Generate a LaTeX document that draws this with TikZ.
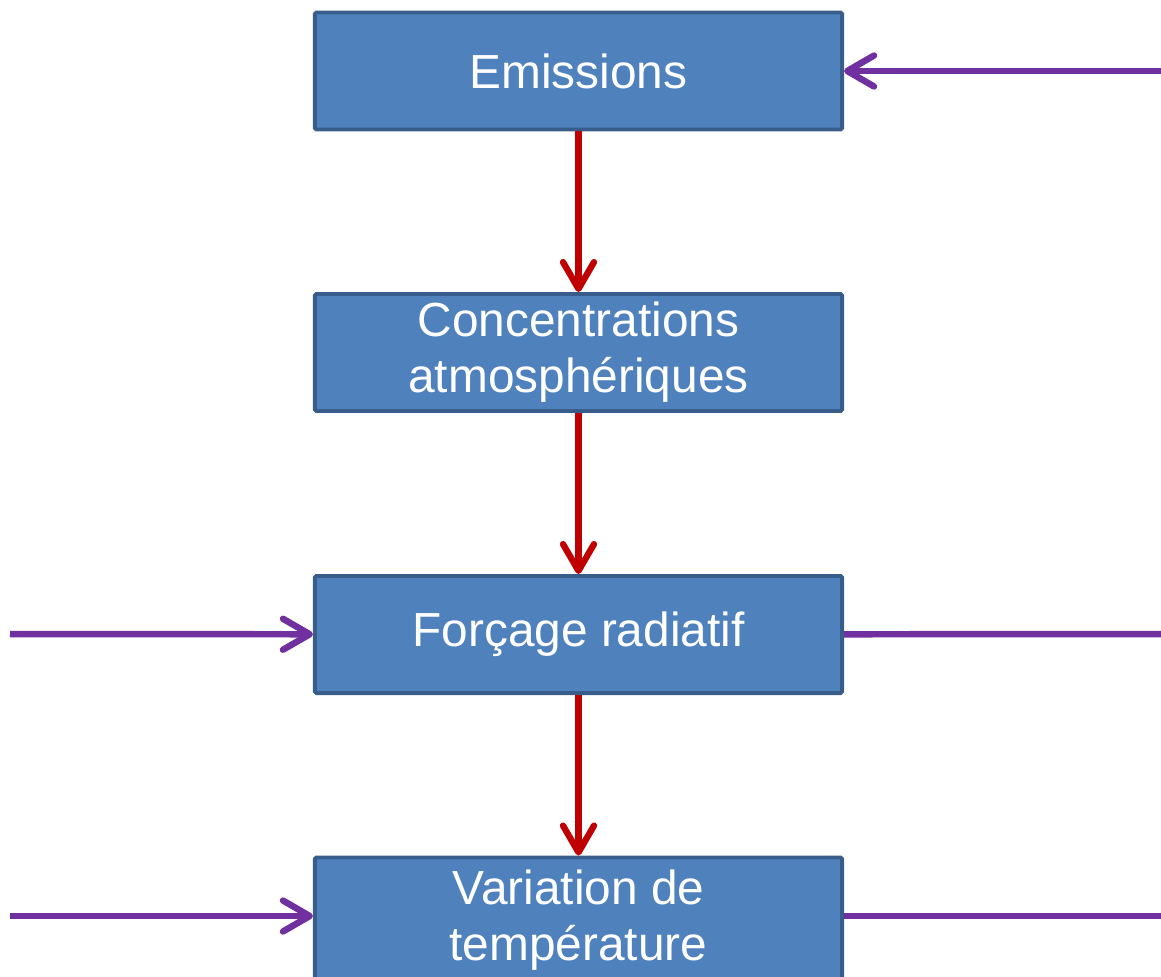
\documentclass[tikz,border=0pt]{standalone}
\usepackage{fontspec}
\setmainfont{Liberation Sans}
\usetikzlibrary{arrows.meta}
\definecolor{boxfill}{HTML}{4F81BD}
\definecolor{boxline}{HTML}{385D8A}
\definecolor{chainred}{HTML}{C00000}
\definecolor{drivepurple}{HTML}{7030A0}
\begin{document}
\begin{tikzpicture}
    [x=0.025cm, y=-0.025cm,
    stage/.style={rectangle, draw=boxline, fill=boxfill, line width=2.8pt, rounded corners=1pt,
        minimum width=13.175cm, minimum height=2.925cm, inner sep=0pt, align=center,
        text=white, font=\fontsize{34}{40}\selectfont},
    chain/.style={chainred, line width=4.5pt, -{Straight Barb[length=19pt, width=22pt, line cap=round, line join=round]}},
    driver/.style={drivepurple, line width=4.6pt, -{Straight Barb[length=19pt, width=22pt, line cap=round, line join=round]}},
    through/.style={drivepurple, line width=4.6pt}]

    \useasboundingbox (0,0) rectangle (1161,976);

    \node[stage] (emissions) at (578.5,71) {Emissions};
    \node[stage] (conc) at (578.5,352.5) {Concentrations\\atmosphériques};
    \node[stage] (forcage) at (578.5,634.5) {Forçage radiatif};
    \node[stage, minimum height=3.125cm] (temp) at (578.5,920) {Variation de\\température};

    % free ends of the side lines
    \coordinate (inE) at (1161,71);
    \coordinate (inF) at (10,634);
    \coordinate (outF) at (1161,634);
    \coordinate (inT) at (10,916);
    \coordinate (outT) at (1161,916);

    % main chain
    \draw[chain] (emissions) -- (conc);
    \draw[chain] (conc) -- (forcage);
    \draw[chain] (forcage) -- (temp);

    % side inputs and outputs
    \draw[driver] (inE) -- (emissions);
    \draw[driver] (inF) -- (forcage);
    \draw[through] (forcage) -- (outF);
    \draw[driver] (inT) -- (temp.west |- inT);
    \draw[through] (temp.east |- outT) -- (outT);

\end{tikzpicture}
\end{document}
